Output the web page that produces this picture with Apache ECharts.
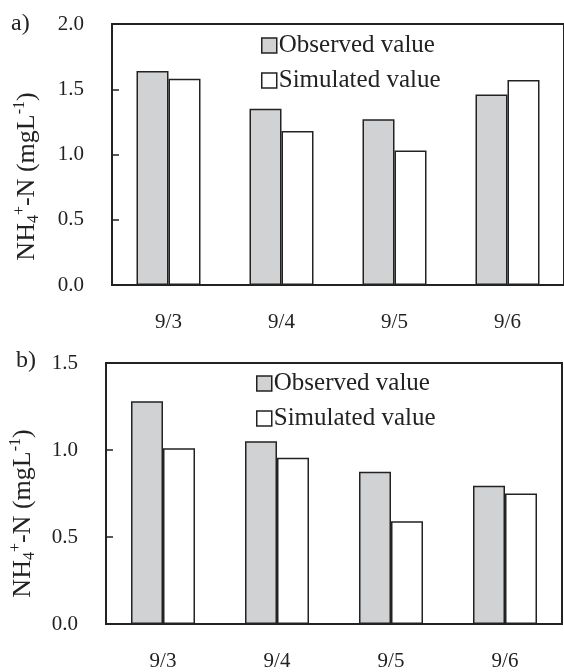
<!DOCTYPE html>
<html>
<head>
<meta charset="utf-8">
<title>NH4+-N observed vs simulated</title>
<script src="https://cdn.jsdelivr.net/npm/echarts@6/dist/echarts.min.js"></script>
<style>
	html,body{margin:0;padding:0;background:#fff}
	#main{width:564px;height:672px}
</style>
</head>
<body>
<div id="main"></div>
<script>
// data
var days = ['9/3', '9/4', '9/5', '9/6'];
var obsA = [1.64, 1.35, 1.27, 1.46];
var simA = [1.58, 1.18, 1.03, 1.57];
var obsB = [1.28, 1.05, 0.875, 0.795];
var simB = [1.01, 0.955, 0.59, 0.75];
var yTicksA = {min: 0, max: 2.0, interval: 0.5};
var yTicksB = {min: 0, max: 1.5, interval: 0.5};

var font = "'Liberation Serif', 'Times New Roman', serif";
var ink = '#222';
var grayFill = '#d1d2d4';

var nameRich = {
	n: {fontSize: 26, fontFamily: font, color: ink, lineHeight: 30},
	sub: {fontSize: 16, fontFamily: font, color: ink, verticalAlign: 'bottom', lineHeight: 30},
	sup: {fontSize: 16, fontFamily: font, color: ink, verticalAlign: 'top', lineHeight: 30}
};
var yName = '{n|NH}{sub|4}{sup|+}{n|-N (mgL}{sup|-1}{n|)}';

function xAx(grid){
	return {
		type: 'category', gridIndex: grid, data: days,
		axisLine: {lineStyle: {color: ink, width: 2}},
		axisTick: {inside: true, length: 6, lineStyle: {color: ink, width: 1.5}},
		axisLabel: {margin: 27, fontSize: 21, fontFamily: font, color: ink}
	};
}
function yAx(grid, t, gap, shift){
	return {
		type: 'value', gridIndex: grid, min: t.min, max: t.max, interval: t.interval,
		name: yName, nameLocation: 'middle', nameRotate: 90, nameGap: gap,
		nameTextStyle: {rich: nameRich, padding: [0, shift, 0, 0]},
		splitLine: {show: false},
		axisLine: {show: true, lineStyle: {color: ink, width: 2}},
		axisTick: {show: true, inside: true, length: 7, lineStyle: {color: ink, width: 1.5}},
		axisLabel: {margin: 28, fontSize: 21, fontFamily: font, color: ink,
			formatter: function(v){ return v.toFixed(1); }}
	};
}
function bars(name, data, idx, fill){
	return {
		name: name, type: 'bar', xAxisIndex: idx, yAxisIndex: idx, data: data,
		barWidth: 32, barGap: '0%',
		itemStyle: {color: fill, borderColor: ink, borderWidth: 1.5},
		emphasis: {disabled: true}
	};
}
function legendAt(left, top){
	return {
		orient: 'vertical', left: left, top: top, itemWidth: 15, itemHeight: 15,
		itemGap: 10, icon: 'rect', padding: 0, selectedMode: false,
		itemStyle: {borderColor: ink, borderWidth: 1.5},
		textStyle: {fontSize: 25, fontFamily: font, color: ink, padding: [0, 0, 0, -3]},
		data: ['Observed value', 'Simulated value']
	};
}

var chart = echarts.init(document.getElementById('main'));
chart.setOption({
	animation: false,
	title: [
		{text: 'a)', left: 11, top: 12, padding: 0, textStyle: {fontSize: 24, fontWeight: 'normal', fontFamily: font, color: ink}},
		{text: 'b)', left: 16, top: 349, padding: 0, textStyle: {fontSize: 24, fontWeight: 'normal', fontFamily: font, color: ink}}
	],
	legend: [legendAt(261, 33), legendAt(256, 371)],
	grid: [
		{left: 112, top: 24, width: 454, height: 261, show: true, borderColor: ink, borderWidth: 2},
		{left: 106, top: 363, width: 456, height: 261, show: true, borderColor: ink, borderWidth: 2}
	],
	xAxis: [xAx(0), xAx(1)],
	yAxis: [yAx(0, yTicksA, 70, 44), yAx(1, yTicksB, 68, 40)],
	series: [
		bars('Observed value', obsA, 0, grayFill),
		bars('Simulated value', simA, 0, '#ffffff'),
		bars('Observed value', obsB, 1, grayFill),
		bars('Simulated value', simB, 1, '#ffffff')
	]
});
</script>
</body>
</html>
